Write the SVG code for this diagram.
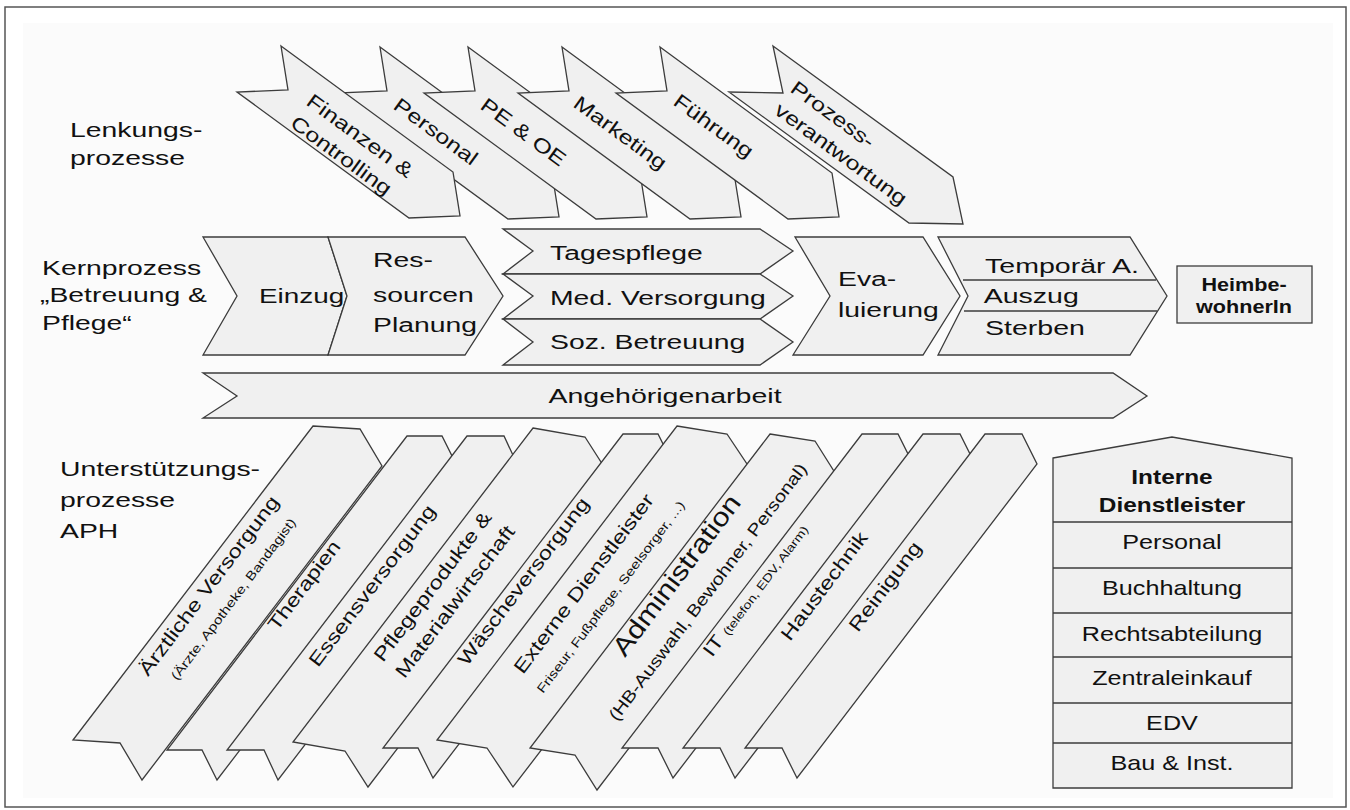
<svg xmlns="http://www.w3.org/2000/svg" width="1350" height="810" viewBox="0 0 1350 810">
<style>
.shape{fill:#f0f0f0;stroke:#3c3c3c;stroke-width:1.3;stroke-linejoin:miter}
.div{stroke:#3c3c3c;stroke-width:1.3;fill:none}
.t{font-family:"Liberation Sans",Arial,sans-serif;fill:#111}
.h21{font-size:21px}
.s19{font-size:19px}
.s20{font-size:20px}
.sm{font-size:12.5px}
.b{font-weight:bold}
</style>
<rect x="5" y="7" width="1341" height="800" fill="#ffffff" stroke="#555" stroke-width="1.5"/>
<rect x="23" y="23" width="1310" height="775" fill="#fbfbfb"/>

<g id="labels">
<text class="t h21" transform="translate(70,137) scale(1.35,1)"><tspan x="0" y="0">Lenkungs-</tspan><tspan x="0" y="28">prozesse</tspan></text>
<text class="t h21" transform="translate(42,275) scale(1.35,1)"><tspan x="0" y="0">Kernprozess</tspan><tspan x="-1.5" y="27.5">„Betreuung &amp;</tspan><tspan x="0" y="55">Pflege“</tspan></text>
<text class="t h21" transform="translate(60,476) scale(1.35,1)"><tspan x="0" y="0">Unterstützungs-</tspan><tspan x="0" y="31">prozesse</tspan><tspan x="0" y="62">APH</tspan></text>
</g>

<!-- Lenkungsprozesse (top arrows) -->
<g id="personal-top">
<polygon class="shape" points="380,47 552,173 559,217 508,219 336,93 387,91"/>
<text class="t s20" transform="translate(392,108) rotate(36.2) scale(1.25,1)">Personal</text>
</g>
<g id="finanzen">
<polygon class="shape" points="281,46 453,172 460,216 409,218 237,92 288,90"/>
<text class="t s20" transform="translate(305,104) rotate(36.2) scale(1.25,1)"><tspan x="0" y="0">Finanzen &amp;</tspan><tspan x="0" y="27">Controlling</tspan></text>
</g>
<g id="pe-oe">
<polygon class="shape" points="468,47 640,173 647,217 596,219 424,93 475,91"/>
<text class="t s20" transform="translate(479,108) rotate(36.2) scale(1.25,1)">PE &amp; OE</text>
</g>
<g id="marketing">
<polygon class="shape" points="562,47 734,173 741,217 690,219 518,93 569,91"/>
<text class="t s20" transform="translate(572,106) rotate(36.2) scale(1.25,1)">Marketing</text>
</g>
<g id="fuehrung">
<polygon class="shape" points="660,47 832,173 839,217 788,219 616,93 667,91"/>
<text class="t s20" transform="translate(672,104) rotate(36.2) scale(1.25,1)">Führung</text>
</g>
<g id="prozessverantwortung">
<polygon class="shape" points="773,46 953,177 963,224 909,223 729,92 783,93"/>
<text class="t s20" transform="translate(789,91) rotate(36.2) scale(1.25,1)"><tspan x="0" y="0">Prozess-</tspan><tspan x="0" y="27">verantwortung</tspan></text>
</g>

<!-- Kernprozess -->
<g id="einzug">
<polygon class="shape" points="203,237 328,237 347,296 328,355 203,355 237,296"/>
<text class="t h21" transform="translate(259,303) scale(1.33,1)">Einzug</text>
</g>
<g id="ressourcen">
<polygon class="shape" points="328,237 465,237 503,296 465,355 328,355 347,296"/>
<text class="t h21" transform="translate(373,267) scale(1.35,1)"><tspan x="0" y="0">Res-</tspan><tspan x="0" y="35">sourcen</tspan><tspan x="0" y="65">Planung</tspan></text>
</g>
<g id="tagespflege">
<polygon class="shape" points="503,229 760,229 793,251 760,274 503,274 533,251"/>
<text class="t h21" transform="translate(550,260) scale(1.35,1)">Tagespflege</text>
</g>
<g id="med-versorgung">
<polygon class="shape" points="503,274 760,274 793,296 760,319 503,319 533,296"/>
<text class="t h21" transform="translate(550,305) scale(1.35,1)">Med. Versorgung</text>
</g>
<g id="soz-betreuung">
<polygon class="shape" points="503,319 760,319 793,342 760,365 503,365 533,342"/>
<text class="t h21" transform="translate(550,349) scale(1.35,1)">Soz. Betreuung</text>
</g>
<g id="evaluierung">
<polygon class="shape" points="795,237 923,237 960,296 923,355 793,355 830,296"/>
<text class="t h21" transform="translate(838,286) scale(1.35,1)"><tspan x="0" y="0">Eva-</tspan><tspan x="0" y="31">luierung</tspan></text>
</g>
<g id="austritt">
<polygon class="shape" points="938,237 1130,237 1167,296 1130,355 938,355 968,296"/>
<line class="div" x1="963" y1="280" x2="1156" y2="280"/>
<line class="div" x1="964" y1="311" x2="1157" y2="311"/>
<text class="t h21" transform="translate(985,273) scale(1.36,1)"><tspan x="0" y="0">Temporär A.</tspan><tspan x="-1" y="30">Auszug</tspan><tspan x="0" y="62">Sterben</tspan></text>
</g>
<g id="heimbewohnerin">
<rect class="shape" x="1177" y="266" width="135" height="57"/>
<text class="t b" font-size="18" text-anchor="middle" transform="translate(1244,291) scale(1.2,1)"><tspan x="0" y="0">Heimbe-</tspan><tspan x="0" y="22">wohnerIn</tspan></text>
</g>
<g id="angehoerigenarbeit">
<polygon class="shape" points="203,373 1113,373 1147,396 1113,418 203,418 237,396"/>
<text class="t h21" text-anchor="middle" transform="translate(665,403) scale(1.36,1)">Angehörigenarbeit</text>
</g>

<!-- Unterstützungsprozesse -->
<g id="aerztliche-versorgung">
<polygon class="shape" points="313,426 360,429 382,466 142,780 120,743 73,740"/>
<text class="t s19" transform="translate(148,677) rotate(-53) scale(1.25,1)">Ärztliche Versorgung</text>
<text class="t sm" transform="translate(177,681) rotate(-53) scale(1.25,1)">(Ärzte, Apotheke, Bandagist)</text>
</g>
<g id="therapien">
<polygon class="shape" points="407,436 442,436 457,466 217,780 202,750 167,750"/>
<text class="t s19" transform="translate(277,632) rotate(-53) scale(1.25,1)">Therapien</text>
</g>
<g id="essensversorgung">
<polygon class="shape" points="467,436 504,436 518,466 278,780 264,750 227,750"/>
<text class="t s19" transform="translate(318,668) rotate(-53) scale(1.25,1)">Essensversorgung</text>
</g>
<g id="pflegeprodukte">
<polygon class="shape" points="533,428 585,437 608,473 368,787 345,751 293,742"/>
<text class="t s19" transform="translate(383,663) rotate(-53) scale(1.25,1)"><tspan x="0" y="0">Pflegeprodukte &amp;</tspan><tspan x="0" y="27">Materialwirtschaft</tspan></text>
</g>
<g id="waescheversorgung">
<polygon class="shape" points="623,434 658,434 673,464 433,778 418,748 383,748"/>
<text class="t s19" transform="translate(467,667) rotate(-53) scale(1.25,1)">Wäscheversorgung</text>
</g>
<g id="externe-dienstleister">
<polygon class="shape" points="677,426 727,434 753,473 513,787 487,748 437,740"/>
<text class="t s19" transform="translate(523,675) rotate(-53) scale(1.25,1)">Externe Dienstleister</text>
<text class="t sm" transform="translate(543,694) rotate(-53) scale(1.25,1)">Friseur, Fußpflege, Seelsorger, ...)</text>
</g>
<g id="administration">
<polygon class="shape" points="770,434 815,441 837,476 597,790 575,755 530,748"/>
<text class="t" font-size="26" transform="translate(625,658) rotate(-53) scale(1.18,1)">Administration</text>
<text class="t" font-size="17" transform="translate(617,722) rotate(-53) scale(1.19,1)">(HB-Auswahl, Bewohner, Personal)</text>
</g>
<g id="it">
<polygon class="shape" points="862,434 898,434 913,464 673,778 658,748 622,748"/>
<text class="t s19" transform="translate(712,658) rotate(-53) scale(1.25,1)">IT <tspan font-size="11.5">(telefon, EDV, Alarm)</tspan></text>
</g>
<g id="haustechnik">
<polygon class="shape" points="923,434 960,434 975,464 735,778 720,748 683,748"/>
<text class="t s19" transform="translate(790,642) rotate(-53) scale(1.25,1)">Haustechnik</text>
</g>
<g id="reinigung">
<polygon class="shape" points="985,434 1022,434 1037,464 797,778 782,748 745,748"/>
<text class="t s19" transform="translate(858,633) rotate(-53) scale(1.25,1)">Reinigung</text>
</g>

<!-- Interne Dienstleister -->
<g id="interne-dienstleister">
<path class="shape" d="M1053,458 L1172,437 L1292,458 L1292,788 L1053,788 Z"/>
<path class="div" d="M1053,522 H1292 M1053,568 H1292 M1053,613 H1292 M1053,657 H1292 M1053,703 H1292 M1053,743 H1292"/>
<text class="t b s20" text-anchor="middle" transform="translate(1172,484) scale(1.22,1)"><tspan x="0" y="0">Interne</tspan><tspan x="0" y="28">Dienstleister</tspan></text>
<g class="t s20" text-anchor="middle">
<text transform="translate(1172,549) scale(1.26,1)">Personal</text>
<text transform="translate(1172,595) scale(1.26,1)">Buchhaltung</text>
<text transform="translate(1172,641) scale(1.26,1)">Rechtsabteilung</text>
<text transform="translate(1172,685) scale(1.26,1)">Zentraleinkauf</text>
<text transform="translate(1172,730) scale(1.26,1)">EDV</text>
<text transform="translate(1172,770) scale(1.26,1)">Bau &amp; Inst.</text>
</g>
</g>

<g id="connectors"/>
</svg>
